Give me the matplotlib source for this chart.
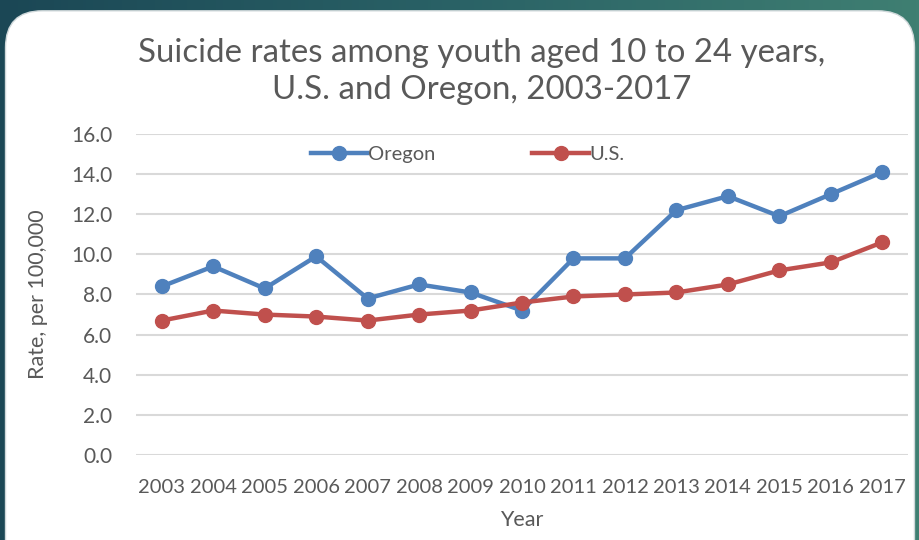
import numpy as np
import matplotlib.pyplot as plt
from matplotlib.patches import FancyBboxPatch
from matplotlib.colors import LinearSegmentedColormap

# ==================== 数据 ====================
years = [2003, 2004, 2005, 2006, 2007, 2008, 2009, 2010,
         2011, 2012, 2013, 2014, 2015, 2016, 2017]
oregon = [8.4, 9.4, 8.3, 9.9, 7.8, 8.5, 8.1, 7.2,
          9.8, 9.8, 12.2, 12.9, 11.9, 13.0, 14.1]
us = [6.7, 7.2, 7.0, 6.9, 6.7, 7.0, 7.2, 7.6,
      7.9, 8.0, 8.1, 8.5, 9.2, 9.6, 10.6]
yticks = [0, 2, 4, 6, 8, 10, 12, 14, 16]

FONT = ['Lato', 'DejaVu Sans']
GRAY = '#595959'
BLUE = '#4F81BD'
RED = '#C0504D'

fig = plt.figure(figsize=(9.2, 5.4), dpi=100)

# 背景：深青色渐变 + 白色圆角面板
bg = fig.add_axes([0, 0, 1, 1], zorder=-10)
grad = np.linspace(0, 1, 256)[None, :]
cmap = LinearSegmentedColormap.from_list('bg', ['#1b4755', '#2a6266', '#3f7f72'])
bg.imshow(grad, cmap=cmap, aspect='auto', extent=[0, 1, 0, 1])
panel = FancyBboxPatch((0.006, -0.1), 0.988, 1.08,
                       boxstyle='round,pad=0,rounding_size=0.04',
                       transform=bg.transAxes, facecolor='white',
                       edgecolor='#cfd8da', linewidth=1.0, mutation_aspect=920/540)
bg.add_patch(panel)
bg.set_xlim(0, 1)
bg.set_ylim(0, 1)
bg.axis('off')

# ==================== 主图 ====================
ax = fig.add_axes([0.1478, 0.1574, 0.8392, 0.5945])
x = np.arange(len(years))
ax.plot(x, oregon, color=BLUE, lw=3.2, marker='o', ms=10, label='Oregon', zorder=3)
ax.plot(x, us, color=RED, lw=3.2, marker='o', ms=10, label='U.S.', zorder=3)

ax.set_xlim(-0.5, len(years) - 0.5)
ax.set_ylim(0, 16)
ax.set_yticks(yticks)
ax.set_yticklabels([f'{v:.1f}' for v in yticks], fontfamily=FONT, fontsize=15, color=GRAY)
ax.set_xticks(x)
ax.set_xticklabels([str(y) for y in years], fontfamily=FONT, fontsize=14.5, color=GRAY)
ax.tick_params(axis='x', length=0, pad=17)
ax.tick_params(axis='y', length=0, pad=17)
ax.grid(axis='y', color='#d9d9d9', lw=1.5)
ax.set_axisbelow(True)
for s in ax.spines.values():
    s.set_visible(False)

ax.set_ylabel('Rate, per 100,000', fontfamily=FONT, fontsize=15.5, color=GRAY, labelpad=17)
ax.set_xlabel('Year', fontfamily=FONT, fontsize=15.5, color=GRAY, labelpad=10)

leg = ax.legend(loc='upper center', bbox_to_anchor=(0.43, 1.02), ncol=2, frameon=False,
                columnspacing=4.8, handlelength=2.8, handletextpad=0.05,
                prop={'family': FONT, 'size': 14.5})
for t in leg.get_texts():
    t.set_color(GRAY)

fig.text(0.524, 0.868, 'Suicide rates among youth aged 10 to 24 years,\nU.S. and Oregon, 2003-2017',
         ha='center', va='center', fontfamily=FONT, fontsize=23.8, color=GRAY, linespacing=1.3)

fig.savefig('out.png', dpi=100)
